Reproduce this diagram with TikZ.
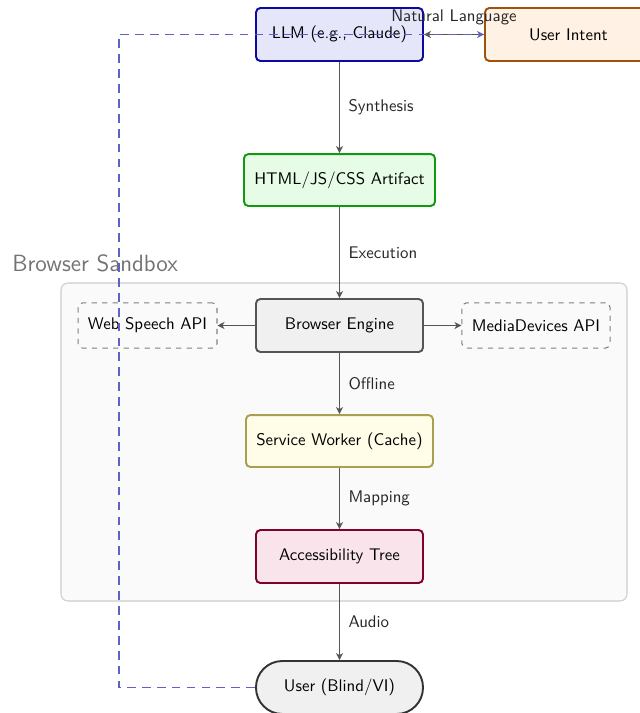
\documentclass[tikz,border=0pt]{standalone}
\usetikzlibrary{arrows.meta,positioning}
\definecolor{llmdraw}{HTML}{0A0AA0}
\definecolor{llmfill}{HTML}{E6E6FA}
\definecolor{uidraw}{HTML}{A0520A}
\definecolor{uifill}{HTML}{FFF1E3}
\definecolor{htmldraw}{HTML}{109A10}
\definecolor{htmlfill}{HTML}{E6FCE6}
\definecolor{bedraw}{HTML}{555555}
\definecolor{befill}{HTML}{F0F0F0}
\definecolor{swdraw}{HTML}{A8A050}
\definecolor{swfill}{HTML}{FFFDE7}
\definecolor{atdraw}{HTML}{800030}
\definecolor{atfill}{HTML}{FAE4EC}
\definecolor{sbfill}{HTML}{FAFAFA}
\definecolor{sbdraw}{HTML}{CCCCCC}
\definecolor{linkgray}{HTML}{555555}
\definecolor{dashblue}{HTML}{6060C8}
\newcommand{\nfont}{\sffamily\fontsize{9.6}{11.5}\selectfont}
\tikzset{
  box/.style={rectangle, rounded corners=2.5pt, line width=1.1pt, align=center,
    minimum width=95.2pt, minimum height=30.2pt, font=\nfont, inner sep=2pt},
  apibox/.style={rectangle, rounded corners=2.5pt, dashed, draw=gray, line width=0.6pt,
    minimum height=25.7pt, font=\nfont, inner sep=2pt},
  link/.style={draw=linkgray, line width=0.6pt, -{Stealth[length=4pt,width=4pt,inset=1.2pt]}},
  elabel/.style={font=\nfont, anchor=west, text=black!85},
}
\begin{document}
\begin{tikzpicture}[x=0.57pt,y=-0.57pt]
\clip (0,0) rectangle (640,713);
\useasboundingbox (0,0) rectangle (640,713);
% sandbox
\draw[fill=sbfill, draw=sbdraw, line width=0.6pt, rounded corners=4pt] (61,283) rectangle (627,601);
\node[anchor=south west, font=\sffamily\fontsize{13.4}{16}\selectfont, text=black!55, inner sep=0pt] (sblabel) at (12,272) {Browser Sandbox};
% nodes
\node[box, draw=llmdraw, fill=llmfill] (llm) at (339.5,34.5) {LLM (e.g., Claude)};
\node[box, draw=uidraw, fill=uifill] (ui) at (568.5,34.5) {User Intent};
\node[box, draw=htmldraw, fill=htmlfill, minimum width=108.9pt, minimum height=29.6pt] (html) at (339.5,180) {HTML/JS/CSS Artifact};
\node[box, draw=bedraw, fill=befill] (be) at (339.5,325.5) {Browser Engine};
\node[apibox, minimum width=79.2pt] (ws) at (147.5,325.5) {Web Speech API};
\node[apibox, minimum width=84.4pt] (md) at (536,325.5) {MediaDevices API};
\node[box, draw=swdraw, fill=swfill, minimum width=106.6pt, minimum height=29.6pt] (sw) at (339.5,441) {Service Worker (Cache)};
\node[box, draw=atdraw, fill=atfill] (at) at (339.5,556.5) {Accessibility Tree};
\node[box, draw=black!80, fill=befill, rounded corners=15pt] (user) at (339.5,687.5) {User (Blind/VI)};
% links
\draw[link] (llm) -- node[elabel, xshift=1.5pt]{Synthesis} (html);
\draw[link] (html) -- node[elabel, xshift=1.5pt]{Execution} (be);
\draw[link] (be) -- (ws);
\draw[link] (be) -- (md);
\draw[link] (be) -- node[elabel, xshift=1.5pt]{Offline} (sw);
\draw[link] (sw) -- node[elabel, xshift=1.5pt]{Mapping} (at);
\draw[link] (at) -- node[elabel, xshift=1.5pt]{Audio} (user);
\draw[link] (ui) -- node[above=1.8pt, font=\nfont, text=black!85]{Natural Language} (llm);
% dashed feedback
\coordinate (c1) at (119,687.5);
\coordinate (c2) at (119,34.5);
\draw[dashblue, line width=0.8pt, dash pattern=on 5pt off 3.5pt, -{Stealth[length=4pt,width=4pt,inset=1.2pt]}] (user.west) -- (c1) -- (c2) -- (ui.west);
\end{tikzpicture}
\end{document}
